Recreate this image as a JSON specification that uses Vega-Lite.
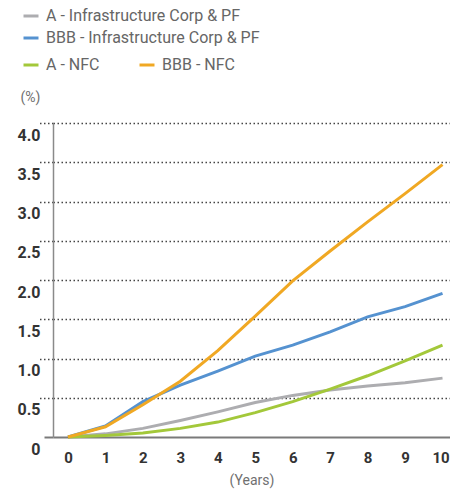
{
  "$schema": "https://vega.github.io/schema/vega-lite/v6.json",
  "width": 397,
  "height": 314,
  "autosize": {"type": "none"},
  "padding": {"left": 53, "top": 123, "right": 0, "bottom": 53},
  "background": "white",
  "config": {
    "view": {"stroke": null},
    "font": "Roboto"
  },
  "data": {
    "values": [
      {"series": "A - Infrastructure Corp & PF", "year": 0, "pd": 0},
      {"series": "A - Infrastructure Corp & PF", "year": 1, "pd": 0.04},
      {"series": "A - Infrastructure Corp & PF", "year": 2, "pd": 0.11},
      {"series": "A - Infrastructure Corp & PF", "year": 3, "pd": 0.21},
      {"series": "A - Infrastructure Corp & PF", "year": 4, "pd": 0.32},
      {"series": "A - Infrastructure Corp & PF", "year": 5, "pd": 0.44},
      {"series": "A - Infrastructure Corp & PF", "year": 6, "pd": 0.53},
      {"series": "A - Infrastructure Corp & PF", "year": 7, "pd": 0.6},
      {"series": "A - Infrastructure Corp & PF", "year": 8, "pd": 0.65},
      {"series": "A - Infrastructure Corp & PF", "year": 9, "pd": 0.69},
      {"series": "A - Infrastructure Corp & PF", "year": 10, "pd": 0.75},
      {"series": "BBB - Infrastructure Corp & PF", "year": 0, "pd": 0},
      {"series": "BBB - Infrastructure Corp & PF", "year": 1, "pd": 0.14},
      {"series": "BBB - Infrastructure Corp & PF", "year": 2, "pd": 0.45},
      {"series": "BBB - Infrastructure Corp & PF", "year": 3, "pd": 0.66},
      {"series": "BBB - Infrastructure Corp & PF", "year": 4, "pd": 0.84},
      {"series": "BBB - Infrastructure Corp & PF", "year": 5, "pd": 1.03},
      {"series": "BBB - Infrastructure Corp & PF", "year": 6, "pd": 1.17},
      {"series": "BBB - Infrastructure Corp & PF", "year": 7, "pd": 1.34},
      {"series": "BBB - Infrastructure Corp & PF", "year": 8, "pd": 1.53},
      {"series": "BBB - Infrastructure Corp & PF", "year": 9, "pd": 1.66},
      {"series": "BBB - Infrastructure Corp & PF", "year": 10, "pd": 1.83},
      {"series": "A - NFC", "year": 0, "pd": 0},
      {"series": "A - NFC", "year": 1, "pd": 0.02},
      {"series": "A - NFC", "year": 2, "pd": 0.05},
      {"series": "A - NFC", "year": 3, "pd": 0.11},
      {"series": "A - NFC", "year": 4, "pd": 0.19},
      {"series": "A - NFC", "year": 5, "pd": 0.31},
      {"series": "A - NFC", "year": 6, "pd": 0.45},
      {"series": "A - NFC", "year": 7, "pd": 0.61},
      {"series": "A - NFC", "year": 8, "pd": 0.78},
      {"series": "A - NFC", "year": 9, "pd": 0.97},
      {"series": "A - NFC", "year": 10, "pd": 1.17},
      {"series": "BBB - NFC", "year": 0, "pd": 0},
      {"series": "BBB - NFC", "year": 1, "pd": 0.13},
      {"series": "BBB - NFC", "year": 2, "pd": 0.41},
      {"series": "BBB - NFC", "year": 3, "pd": 0.71},
      {"series": "BBB - NFC", "year": 4, "pd": 1.1},
      {"series": "BBB - NFC", "year": 5, "pd": 1.54},
      {"series": "BBB - NFC", "year": 6, "pd": 1.99},
      {"series": "BBB - NFC", "year": 7, "pd": 2.37},
      {"series": "BBB - NFC", "year": 8, "pd": 2.74},
      {"series": "BBB - NFC", "year": 9, "pd": 3.1},
      {"series": "BBB - NFC", "year": 10, "pd": 3.47}
    ]
  },
  "encoding": {
    "x": {
      "field": "year",
      "type": "quantitative",
      "scale": {"domain": [-0.4, 10.2], "nice": false, "zero": false},
      "axis": {
        "values": [0, 1, 2, 3, 4, 5, 6, 7, 8, 9, 10],
        "format": "d",
        "grid": false,
        "ticks": false,
        "domainColor": "#7a7a7a",
        "domainWidth": 2,
        "labelFont": "Roboto",
        "labelFontWeight": "bold",
        "labelFontSize": 15,
        "labelColor": "#333333",
        "labelPadding": 13,
        "labelOffset": {"condition": {"test": "datum.value === 10", "value": -2}, "value": 0},
        "title": "(Years)",
        "titleFont": "Roboto",
        "titleFontWeight": "normal",
        "titleFontSize": 14,
        "titleColor": "#707070",
        "titlePadding": 8
      }
    },
    "y": {
      "field": "pd",
      "type": "quantitative",
      "scale": {"domain": [0, 4], "nice": false},
      "axis": {
        "values": [0, 0.5, 1, 1.5, 2, 2.5, 3, 3.5, 4],
        "labelExpr": "datum.value === 0 ? '0' : format(datum.value, '.1f')",
        "grid": true,
        "gridColor": "#444444",
        "gridDash": [1.5, 2.5],
        "gridWidth": 1.3,
        "gridOpacity": {"condition": {"test": "datum.value === 0", "value": 0}, "value": 1},
        "domainColor": "#8a8a8a",
        "domainWidth": 1.5,
        "tickColor": {"condition": {"test": "datum.value === 0", "value": "#7a7a7a"}, "value": "#444444"},
        "tickDash": {"condition": {"test": "datum.value === 0", "value": []}, "value": [1.5, 2.5]},
        "tickWidth": {"condition": {"test": "datum.value === 0", "value": 2}, "value": 1.3},
        "tickSize": {"condition": {"test": "datum.value === 0", "value": 9}, "value": 16},
        "labelPadding": {"condition": {"test": "datum.value === 0", "value": 4}, "value": -3},
        "labelBaseline": "middle",
        "labelOffset": 12,
        "labelFont": "Roboto",
        "labelFontWeight": "bold",
        "labelFontSize": 16,
        "labelColor": "#333333",
        "title": "(%)",
        "titleAngle": 0,
        "titleAlign": "left",
        "titleBaseline": "middle",
        "titleX": -33,
        "titleY": -26,
        "titleFont": "Roboto",
        "titleFontWeight": "normal",
        "titleFontSize": 14,
        "titleColor": "#707070"
      }
    }
  },
  "layer": [
    {
      "transform": [{"filter": {"field": "series", "oneOf": ["A - Infrastructure Corp & PF", "BBB - Infrastructure Corp & PF"]}}],
      "mark": {"type": "line", "strokeWidth": 3},
      "encoding": {
        "color": {
          "field": "series",
          "type": "nominal",
          "scale": {
            "domain": ["A - Infrastructure Corp & PF", "BBB - Infrastructure Corp & PF"],
            "range": ["#adadb0", "#5592d0"]
          },
          "legend": {
            "title": null,
            "orient": "none",
            "direction": "vertical",
            "legendX": -31,
            "legendY": -116,
            "padding": 0,
            "symbolType": "stroke",
            "symbolSize": 225,
            "symbolStrokeWidth": 3,
            "labelFont": "Roboto",
            "labelFontSize": 16,
            "labelColor": "#666666",
            "labelOffset": 6,
            "labelLimit": 400,
            "rowPadding": 5
          }
        }
      }
    },
    {
      "transform": [{"filter": {"field": "series", "oneOf": ["A - NFC", "BBB - NFC"]}}],
      "mark": {"type": "line", "strokeWidth": 3},
      "encoding": {
        "color": {
          "field": "series",
          "type": "nominal",
          "scale": {
            "domain": ["A - NFC", "BBB - NFC"],
            "range": ["#a3c83a", "#f0a823"]
          },
          "legend": {
            "title": null,
            "orient": "none",
            "direction": "horizontal",
            "legendX": -31,
            "legendY": -67,
            "padding": 0,
            "symbolType": "stroke",
            "symbolSize": 225,
            "symbolStrokeWidth": 3,
            "labelFont": "Roboto",
            "labelFontSize": 16,
            "labelColor": "#666666",
            "labelOffset": 6,
            "labelLimit": 400,
            "columnPadding": 33
          }
        }
      }
    }
  ],
  "resolve": {"scale": {"color": "independent"}, "legend": {"color": "independent"}}
}
